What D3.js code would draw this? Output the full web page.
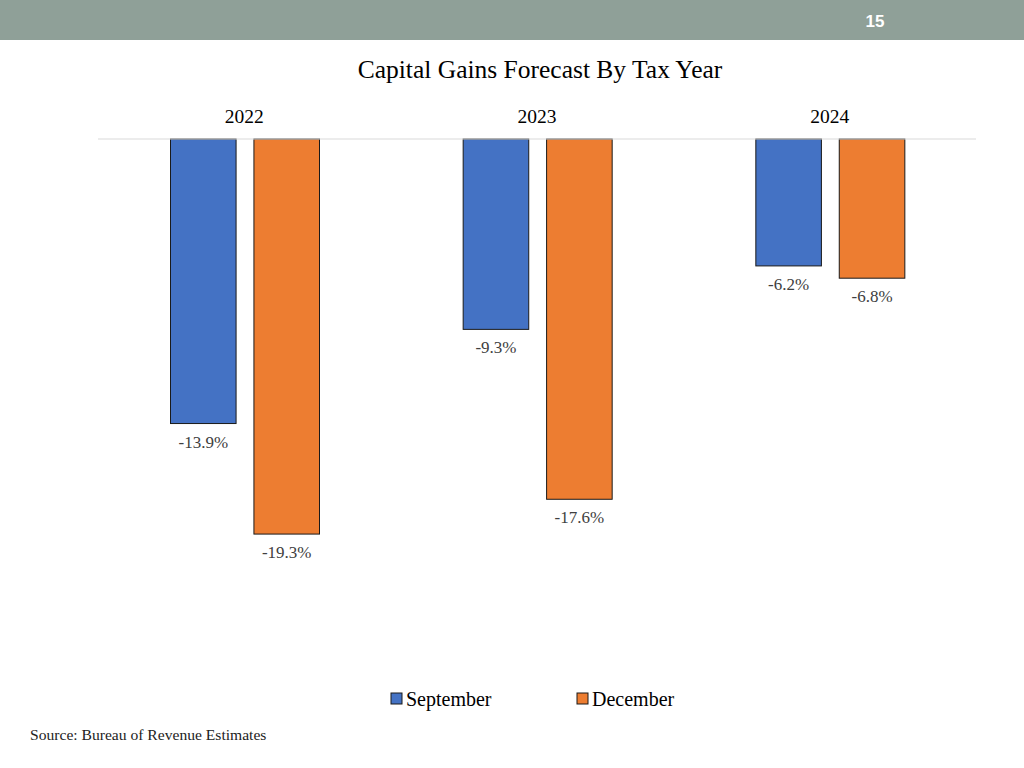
<!DOCTYPE html>
<html><head><meta charset="utf-8">
<script src="https://cdn.jsdelivr.net/npm/d3@7"></script>
<style>body{margin:0;background:#fff}svg{display:block}</style>
</head><body>
<script>
const categories = ["2022", "2023", "2024"];
const seriesNames = ["September", "December"];
const september = [-13.9, -9.3, -6.2];
const december = [-19.3, -17.6, -6.8];
const colors = ["#4472C4", "#ED7D31"];

const W = 1024, H = 768;
const svg = d3.select("body").append("svg").attr("width", W).attr("height", H);
const serif = "'Liberation Serif','Times New Roman',serif";

// header bar
svg.append("rect").attr("x",0).attr("y",0).attr("width",W).attr("height",40).attr("fill","#8FA098");
svg.append("text").attr("x",875).attr("y",27).attr("text-anchor","middle")
  .attr("font-family","'Liberation Sans',Arial,sans-serif").attr("font-weight","bold")
  .attr("font-size",17).attr("fill","#fff").text("15");

svg.append("text").attr("x",540).attr("y",78).attr("text-anchor","middle")
  .attr("font-family",serif).attr("font-size",25.5).attr("fill","#000")
  .text("Capital Gains Forecast By Tax Year");

const x = d3.scaleBand().domain(categories).range([98, 976]).padding(0);
const xi = d3.scaleBand().domain(seriesNames).range([72.5, 221.5]).paddingInner(0.214);
const y = d3.scaleLinear().domain([0, -20]).range([139, 139 + 20 * 20.47]);

// category labels (top axis)
const axis = d3.axisTop(x).tickSize(0).tickPadding(0);
const ag = svg.append("g").attr("transform","translate(0,123)").call(axis);
ag.select(".domain").remove();
ag.selectAll("text").attr("font-family",serif).attr("font-size",19.5).attr("fill","#000").attr("dy",0);

const data = [];
categories.forEach((c,i)=>{
  data.push({c, s: seriesNames[0], v: september[i], col: colors[0]});
  data.push({c, s: seriesNames[1], v: december[i], col: colors[1]});
});

svg.selectAll("rect.bar").data(data).enter().append("rect").attr("class","bar")
  .attr("x", d => x(d.c) + xi(d.s))
  .attr("y", y(0))
  .attr("width", xi.bandwidth())
  .attr("height", d => y(d.v) - y(0))
  .attr("fill", d => d.col).attr("stroke","#1a1a1a").attr("stroke-width",1);

svg.selectAll("text.lbl").data(data).enter().append("text").attr("class","lbl")
  .attr("x", d => x(d.c) + xi(d.s) + xi.bandwidth()/2)
  .attr("y", d => y(d.v) + 24)
  .attr("text-anchor","middle").attr("font-family",serif).attr("font-size",17)
  .attr("fill","#404040").text(d => d.v.toFixed(1) + "%");

// zero line
svg.append("line").attr("x1",98).attr("x2",976).attr("y1",y(0)).attr("y2",y(0))
  .attr("stroke","#d9d9d9").attr("stroke-width",1);

// legend
const legX = [391, 577];
seriesNames.forEach((s,i)=>{
  svg.append("rect").attr("x",legX[i]).attr("y",693).attr("width",11).attr("height",11)
    .attr("fill",colors[i]).attr("stroke","#1a1a1a").attr("stroke-width",1);
  svg.append("text").attr("x",legX[i]+15).attr("y",706).attr("font-family",serif)
    .attr("font-size",20).attr("fill","#000").text(s);
});

svg.append("text").attr("x",30).attr("y",740).attr("font-family",serif)
  .attr("font-size",15.6).attr("fill","#222").text("Source: Bureau of Revenue Estimates");
</script>
</body></html>
